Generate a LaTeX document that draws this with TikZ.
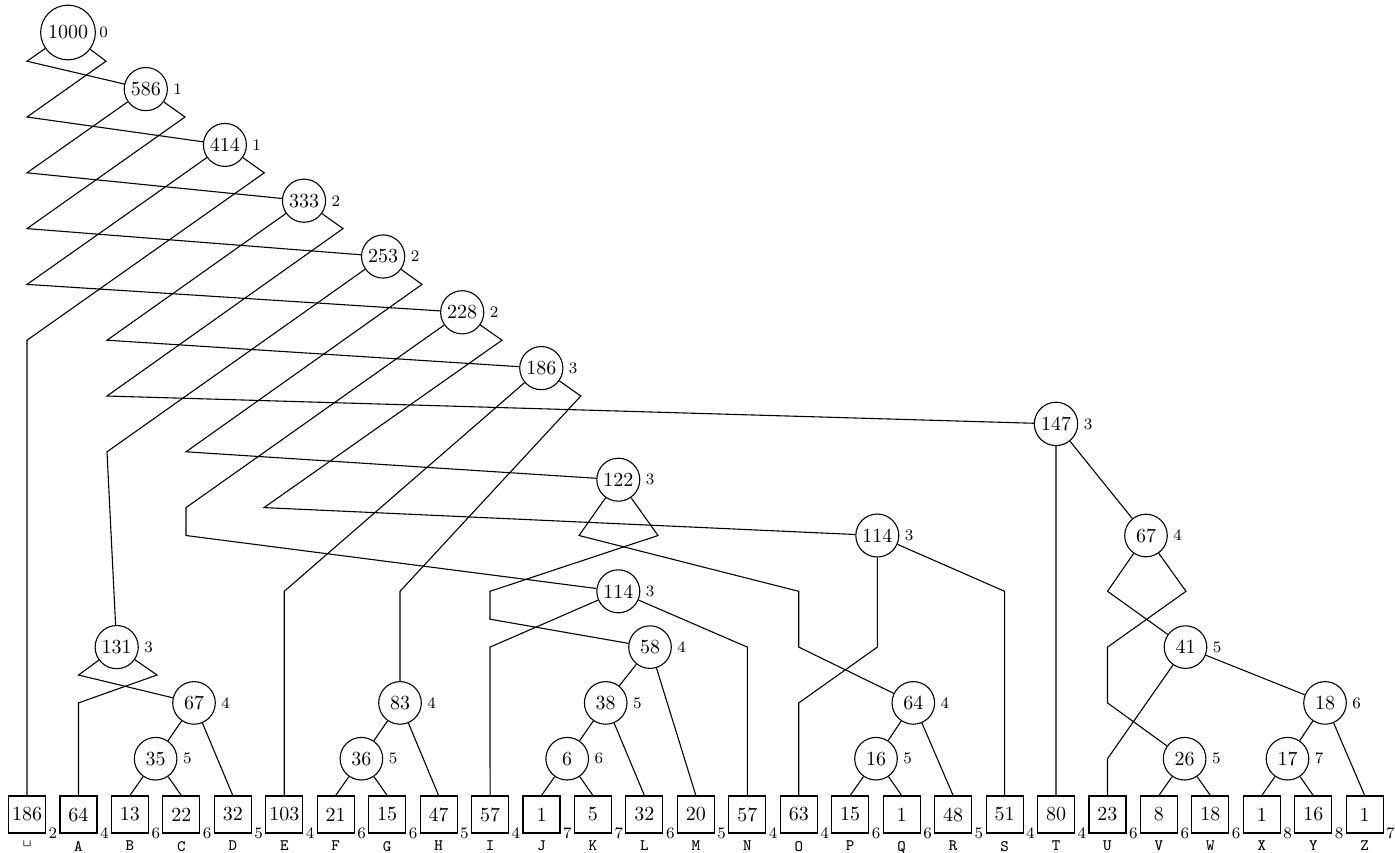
\documentclass[tikz,border=0pt]{standalone}
\begin{document}
\begin{tikzpicture}[x=0.5pt,y=-0.5pt,line width=0.55pt,
  inode/.style={circle,draw,minimum size=21.3pt,inner sep=1.9pt},
  leaf/.style={rectangle,draw,minimum size=18.5pt,inner sep=1pt},
  dl/.style={font=\footnotesize,anchor=west,inner sep=2.5pt},
  ldep/.style={font=\footnotesize,anchor=west,inner sep=1pt},
  letr/.style={font=\ttfamily\footnotesize,anchor=north,inner sep=0pt,yshift=-3.5pt}]
\useasboundingbox (0,0) rectangle (1395,852);
\newcommand\mkinode[4]{\node[inode] (#1) at (#2) {#3}; \node[dl] (#1d) at (#1.east) {#4};}
% leaves
\foreach \ii/\wt/\dep/\lett in {0/186/2/\textvisiblespace,1/64/4/A,2/13/6/B,3/22/6/C,4/32/5/D,5/103/4/E,6/21/6/F,7/15/6/G,8/47/5/H,9/57/4/I,10/1/7/J,11/5/7/K,12/32/6/L,13/20/5/M,14/57/4/N,15/63/4/O,16/15/6/P,17/1/6/Q,18/48/5/R,19/51/4/S,20/80/4/T,21/23/6/U,22/8/6/V,23/18/6/W,24/1/8/X,25/16/8/Y,26/1/7/Z}{
  \node[leaf] (l\ii) at ({27+51.45*\ii},814.5) {\wt};
  \node[ldep] (ld\ii) at (l\ii.south east) {\dep};
  \node[letr] (lc\ii) at (l\ii.south) {\lett};
}
% internal nodes
\node[inode,inner sep=2.4pt] (n1000) at (68,32.5) {1000};
\node[dl,inner sep=1.5pt] (n1000d) at (n1000.east) {0};
\mkinode{n586}{145.8,89.1}{586}{1}
\mkinode{n414}{224.9,144.9}{414}{1}
\mkinode{n333}{304,200.7}{333}{2}
\mkinode{n253}{383.1,256.5}{253}{2}
\mkinode{n228}{462.2,312.3}{228}{2}
\mkinode{n186}{541.3,368.1}{186}{3}
\mkinode{n147}{1056,423.9}{147}{3}
\mkinode{n122}{618.3,479.7}{122}{3}
\mkinode{n114a}{877.3,535.5}{114}{3}
\mkinode{n67b}{1146,535.5}{67}{4}
\mkinode{n114b}{618.3,591.3}{114}{3}
\mkinode{n131}{116.7,647.1}{131}{3}
\mkinode{n58}{650,647.1}{58}{4}
\mkinode{n41}{1185.5,647.1}{41}{5}
\mkinode{n67a}{194,702.9}{67}{4}
\mkinode{n83}{400,702.9}{83}{4}
\mkinode{n38}{605.7,702.9}{38}{5}
\mkinode{n64}{913.3,702.9}{64}{4}
\mkinode{n18}{1325,702.9}{18}{6}
\mkinode{n35}{155.6,758.7}{35}{5}
\mkinode{n36}{361.4,758.7}{36}{5}
\mkinode{n6}{567.2,758.7}{6}{6}
\mkinode{n16}{876,758.7}{16}{5}
\mkinode{n26}{1184.6,758.7}{26}{5}
\mkinode{n17}{1287.5,758.7}{17}{7}
% connectors
\draw (n1000) -- (27,61.2) -- (n586);
\draw (n1000) -- (106,61.2) -- (27,117) -- (n414);
\draw (n586) -- (27,172.8) -- (n333);
\draw (n586) -- (185,117) -- (27,228.6) -- (n253);
\draw (n414) -- (27,284.4) -- (n228);
\draw (n414) -- (264.3,172.8) -- (27,340.2) -- (l0.north);
\draw (n333) -- (107,340.2) -- (n186);
\draw (n333) -- (343,228.6) -- (107,396) -- (n147);
\draw (n253) -- (107,451.8) -- (n131);
\draw (n253) -- (422,284.4) -- (186,451.8) -- (n122);
\draw (n228) -- (186,507.6) -- (186,535.5) -- (n114b);
\draw (n228) -- (502,340.2) -- (264,507.6) -- (n114a);
\draw (n186) -- (l5.north |- 0,591.3) -- (l5.north);
\draw (n186) -- (580.8,396) -- (400,591.3) -- (n83);
\draw (n147) -- (l20.north);
\draw (n147) -- (n67b);
\draw (n122) -- (579,535.5) -- (798.75,591.3) -- (798.75,647.1) -- (n64);
\draw (n122) -- (658,535.5) -- (490,591.3) -- (490,619.2) -- (n58);
\draw (n114a) -- (877.3,647.1) -- (798.75,702.9) -- (l15.north);
\draw (n114a) -- (1004.6,591.3) -- (l19.north);
\draw (n114b) -- (490,647.1) -- (l9.north);
\draw (n114b) -- (747.3,647.1) -- (l14.north);
\draw (n131) -- (78.5,675) -- (n67a);
\draw (n131) -- (157,675) -- (78.5,702.9) -- (l1.north);
\draw (n67b) -- (1107.5,591.3) -- (n41);
\draw (n67b) -- (1186,591.3) -- (1107.5,647.1) -- (1107.5,702.9) -- (n26);
\draw (n41) -- (1107.5,758.7) -- (l21.north);
\draw (n41) -- (n18);
\draw (n67a) -- (n35);
\draw (n67a) -- (l4.north);
\draw (n35) -- (l2.north);
\draw (n35) -- (l3.north);
\draw (n83) -- (n36);
\draw (n83) -- (l8.north);
\draw (n36) -- (l6.north);
\draw (n36) -- (l7.north);
\draw (n58) -- (n38);
\draw (n58) -- (l13.north);
\draw (n38) -- (n6);
\draw (n38) -- (l12.north);
\draw (n6) -- (l10.north);
\draw (n6) -- (l11.north);
\draw (n64) -- (n16);
\draw (n64) -- (l18.north);
\draw (n16) -- (l16.north);
\draw (n16) -- (l17.north);
\draw (n18) -- (n17);
\draw (n18) -- (l26.north);
\draw (n17) -- (l24.north);
\draw (n17) -- (l25.north);
\draw (n26) -- (l22.north);
\draw (n26) -- (l23.north);
\end{tikzpicture}
\end{document}
